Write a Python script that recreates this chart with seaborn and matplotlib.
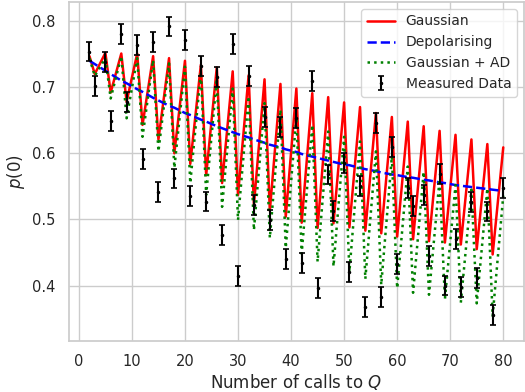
import matplotlib
matplotlib.use("Agg")
import matplotlib.pyplot as plt
import numpy as np
import seaborn as sns

# ── Data ──────────────────────────────────────────────────────────────────────
calls = [2, 3, 5, 6, 8, 9, 11, 12, 14, 15, 17, 18, 20, 21, 23, 24, 26, 27,
         29, 30, 32, 33, 35, 36, 38, 39, 41, 42, 44, 45, 47, 48, 50, 51, 53, 54,
         56, 57, 59, 60, 62, 63, 65, 66, 68, 69, 71, 72, 74, 75, 77, 78, 80]

gaussian = [0.747, 0.720, 0.752, 0.692, 0.751, 0.678, 0.751, 0.643, 0.747, 0.621,
            0.744, 0.600, 0.740, 0.584, 0.734, 0.567, 0.730, 0.555, 0.724, 0.537,
            0.718, 0.522, 0.712, 0.513, 0.705, 0.504, 0.698, 0.495, 0.691, 0.487,
            0.685, 0.494, 0.677, 0.488, 0.670, 0.483, 0.661, 0.479, 0.655, 0.474,
            0.648, 0.470, 0.641, 0.467, 0.634, 0.465, 0.628, 0.462, 0.621, 0.455,
            0.614, 0.447, 0.609]

depolarising = [0.740, 0.735, 0.725, 0.720, 0.710, 0.706, 0.697, 0.693, 0.684, 0.680,
                0.672, 0.669, 0.661, 0.658, 0.651, 0.648, 0.641, 0.638, 0.632, 0.629,
                0.624, 0.621, 0.616, 0.613, 0.609, 0.606, 0.602, 0.599, 0.595, 0.593,
                0.589, 0.587, 0.583, 0.582, 0.578, 0.576, 0.573, 0.571, 0.568, 0.567,
                0.564, 0.563, 0.560, 0.559, 0.556, 0.555, 0.552, 0.551, 0.549, 0.548,
                0.546, 0.545, 0.543]

gaussian_ad = [0.744, 0.717, 0.744, 0.683, 0.747, 0.653, 0.744, 0.625, 0.741, 0.603,
               0.736, 0.578, 0.731, 0.555, 0.723, 0.537, 0.713, 0.519, 0.698, 0.499,
               0.686, 0.484, 0.676, 0.472, 0.666, 0.457, 0.655, 0.448, 0.643, 0.436,
               0.633, 0.429, 0.625, 0.421, 0.618, 0.410, 0.603, 0.401, 0.595, 0.396,
               0.580, 0.389, 0.572, 0.386, 0.561, 0.379, 0.552, 0.374, 0.545, 0.373,
               0.547, 0.354, 0.536]

measured = [0.754, 0.702, 0.738, 0.649, 0.781, 0.678, 0.764, 0.591, 0.769, 0.541,
            0.792, 0.562, 0.772, 0.536, 0.732, 0.527, 0.716, 0.477, 0.766, 0.415,
            0.717, 0.522, 0.655, 0.499, 0.640, 0.440, 0.653, 0.434, 0.710, 0.396,
            0.568, 0.513, 0.585, 0.420, 0.550, 0.367, 0.646, 0.383, 0.610, 0.432,
            0.547, 0.520, 0.537, 0.445, 0.569, 0.400, 0.470, 0.398, 0.526, 0.411,
            0.512, 0.356, 0.547]

MEAS_ERR = 0.015

# ── Plot ──────────────────────────────────────────────────────────────────────
sns.set_theme(style="whitegrid")

fig, ax = plt.subplots(figsize=(5.25, 3.92), dpi=100)

sns.lineplot(x=calls, y=gaussian, ax=ax, color="red", linewidth=1.8,
             label="Gaussian")
sns.lineplot(x=calls, y=depolarising, ax=ax, color="blue", linewidth=1.8,
             linestyle="--", label="Depolarising")
sns.lineplot(x=calls, y=gaussian_ad, ax=ax, color="green", linewidth=1.8,
             linestyle=":", label="Gaussian + AD")
ax.errorbar(calls, measured, yerr=MEAS_ERR, fmt=".", color="black",
            markersize=3, elinewidth=1.5, capsize=2.5, capthick=1.2,
            label="Measured Data")

ax.set_xlabel("Number of calls to $Q$", labelpad=2)
ax.set_ylabel("$p(0)$", labelpad=4)
ax.set_ylim(0.316, 0.829)
ax.set_xticks(np.arange(0, 81, 10))
ax.tick_params(labelsize=10.5)
ax.legend(loc="upper right", fontsize=10)

fig.subplots_adjust(left=0.131, right=0.998, top=0.995, bottom=0.13)
fig.savefig("out.png")
